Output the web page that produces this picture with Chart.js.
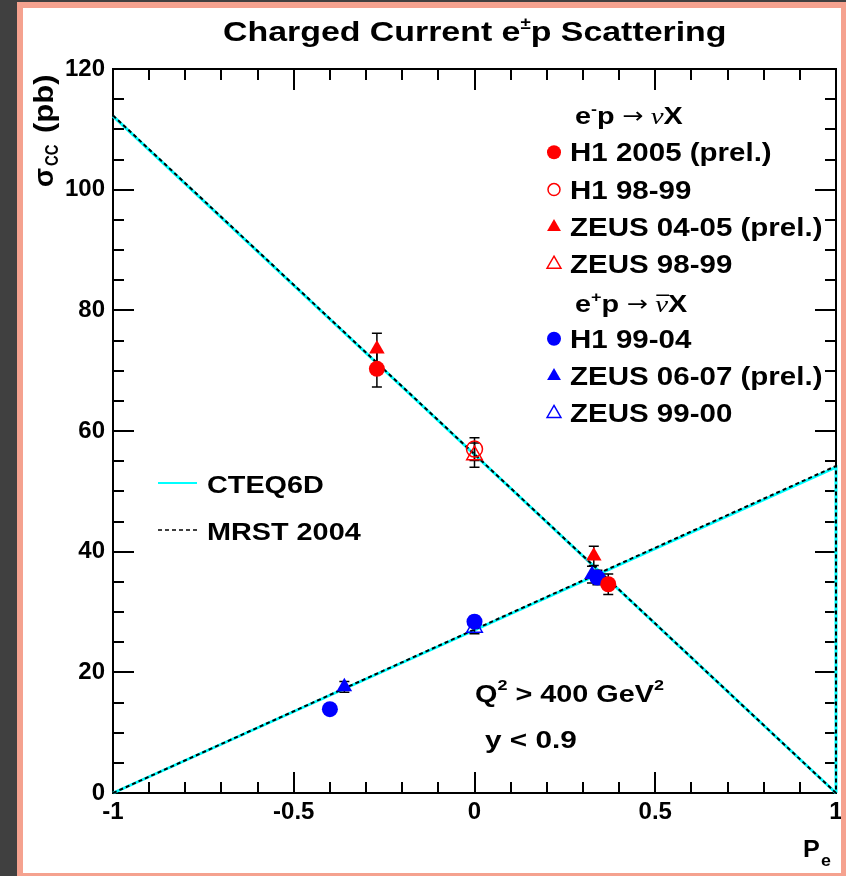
<!DOCTYPE html>
<html>
<head>
<meta charset="utf-8">
<script src="https://cdn.jsdelivr.net/npm/chart.js@4.4.1/dist/chart.umd.min.js"></script>
<style>
  html, body { margin: 0; padding: 0; background: #404040; }
  #frame { position: absolute; left: 17px; top: 2px; width: 829px; height: 874px; background: #f5a28f; }
  #wrap { position: absolute; left: 6px; top: 6px; width: 818px; height: 865px; background: #ffffff; }
</style>
</head>
<body>
<div id="frame"><div id="wrap"><canvas id="ccChart" width="818" height="865"></canvas></div></div>
<script>
// tick labels
const xTicks = [-1, -0.5, 0, 0.5, 1];
const yTicks = [0, 20, 40, 60, 80, 100, 120];

// e-p -> nu X
const h1_2005_P = [-0.27, 0.37];
const h1_2005_sig = [70.3, 34.6];
const h1_2005_err = [3.0, 1.7];

const h1_9899_P = [0];
const h1_9899_sig = [57.0];
const h1_9899_err = [1.9];

const zeus_0405_P = [-0.27, 0.33];
const zeus_0405_sig = [73.6, 39.3];
const zeus_0405_err = [2.6, 1.6];

const zeus_9899_P = [0];
const zeus_9899_sig = [56.0];
const zeus_9899_err = [2.0];

// e+p -> nubar X
const h1_9904_P = [-0.40, 0, 0.34];
const h1_9904_sig = [13.9, 28.4, 35.7];
const h1_9904_err = [0.8, 0.9, 1.2];

const zeus_0607_P = [-0.36, 0.325];
const zeus_0607_sig = [17.6, 36.2];
const zeus_0607_err = [0.9, 1.4];

const zeus_9900_P = [0];
const zeus_9900_sig = [27.4];
const zeus_9900_err = [1.0];

// theory predictions (straight lines in Pe)
const emLineP = [-1, 1];
const cteqEm = [112.2, 0];
const mrstEm = [112.3, 0];
const epLineP = [-1, 1, 1];
const cteqEp = [0, 54.0, 0];
const mrstEp = [0, 54.2, 0];

const FONT = '"Liberation Sans", Arial, Helvetica, sans-serif';
const RED = "#ff0000";
const BLUE = "#0000ff";
const STRETCH = 1.2; // the ROOT text is wider than Liberation Sans

function pts(P, s) {
  return P.map((p, i) => ({ x: p, y: s[i] }));
}

function markerSet(label, P, s, err, style, color, open) {
  return {
    label: label,
    data: pts(P, s),
    err: err,
    showLine: false,
    pointStyle: style,
    pointRadius: style === "triangle" ? 9 : 8,
    backgroundColor: open ? "rgba(0,0,0,0)" : color,
    borderColor: color,
    borderWidth: open ? 1.5 : 0,
    order: 1,
  };
}

const datasets = [
  markerSet("H1 2005 (prel.)", h1_2005_P, h1_2005_sig, h1_2005_err, "circle", RED, false),
  markerSet("H1 98-99", h1_9899_P, h1_9899_sig, h1_9899_err, "circle", RED, true),
  markerSet("ZEUS 04-05 (prel.)", zeus_0405_P, zeus_0405_sig, zeus_0405_err, "triangle", RED, false),
  markerSet("ZEUS 98-99", zeus_9899_P, zeus_9899_sig, zeus_9899_err, "triangle", RED, true),
  markerSet("H1 99-04", h1_9904_P, h1_9904_sig, h1_9904_err, "circle", BLUE, false),
  markerSet("ZEUS 06-07 (prel.)", zeus_0607_P, zeus_0607_sig, zeus_0607_err, "triangle", BLUE, false),
  markerSet("ZEUS 99-00", zeus_9900_P, zeus_9900_sig, zeus_9900_err, "triangle", BLUE, true),
  {
    label: "CTEQ6D", type: "line", data: pts(emLineP, cteqEm),
    borderColor: "#00ffff", borderWidth: 3, pointRadius: 0, clip: false, order: 3,
  },
  {
    label: "CTEQ6D e+", type: "line", data: pts(epLineP, cteqEp),
    borderColor: "#00ffff", borderWidth: 3, pointRadius: 0, clip: false, order: 3,
  },
  {
    label: "MRST 2004", type: "line", data: pts(emLineP, mrstEm),
    borderColor: "#000000", borderWidth: 2, borderDash: [4, 3], pointRadius: 0, clip: false, order: 2,
  },
  {
    label: "MRST 2004 e+", type: "line", data: pts(epLineP, mrstEp),
    borderColor: "#000000", borderWidth: 2, borderDash: [4, 3], pointRadius: 0, clip: false, order: 2,
  },
];

function drawMarker(ctx, ds, x, y, r) {
  ctx.save();
  ctx.fillStyle = ds.backgroundColor;
  ctx.strokeStyle = ds.borderColor;
  ctx.lineWidth = ds.borderWidth || 1;
  ctx.beginPath();
  if (ds.pointStyle === "circle") {
    ctx.arc(x, y, r, 0, Math.PI * 2);
  } else {
    const s = Math.sin(Math.PI / 3) * r;
    ctx.moveTo(x, y - r);
    ctx.lineTo(x + s, y + r / 2);
    ctx.lineTo(x - s, y + r / 2);
    ctx.closePath();
  }
  ctx.fill();
  if (ds.borderWidth > 0) ctx.stroke();
  ctx.restore();
}

// draws horizontally stretched text, returns the advance
function txt(ctx, s, x, y, font, sx) {
  ctx.save();
  ctx.font = font;
  ctx.translate(x, y);
  ctx.scale(sx, 1);
  ctx.fillText(s, 0, 0);
  const w = ctx.measureText(s).width * sx;
  ctx.restore();
  return w;
}

// frame with ROOT-style inward ticks on all four sides, plus x labels
const frameTicks = {
  id: "frameTicks",
  beforeDatasetsDraw(chart) {
    const { ctx, chartArea: a, scales: { x, y } } = chart;
    ctx.save();
    ctx.strokeStyle = "#000";
    ctx.lineWidth = 2;
    ctx.strokeRect(a.left, a.top, a.right - a.left, a.bottom - a.top);
    ctx.beginPath();
    for (let i = 0; i <= 20; i++) {
      const px = Math.round(x.getPixelForValue(-1 + i * 0.1));
      const len = i % 5 === 0 ? 21 : 11;
      ctx.moveTo(px, a.bottom); ctx.lineTo(px, a.bottom - len);
      ctx.moveTo(px, a.top); ctx.lineTo(px, a.top + len);
    }
    for (let i = 0; i <= 24; i++) {
      const py = Math.round(y.getPixelForValue(i * 5));
      const len = i % 4 === 0 ? 21 : 11;
      ctx.moveTo(a.left, py); ctx.lineTo(a.left + len, py);
      ctx.moveTo(a.right, py); ctx.lineTo(a.right - len, py);
    }
    ctx.stroke();

    ctx.fillStyle = "#000";
    ctx.font = "bold 24px " + FONT;
    ctx.textAlign = "center";
    ctx.textBaseline = "alphabetic";
    xTicks.forEach((v) => {
      ctx.fillText(String(v), x.getPixelForValue(v), a.bottom + 26);
    });
    ctx.restore();
  },
};

// vertical error bars with caps, drawn under the markers
let errDone = false;
const errorBars = {
  id: "errorBars",
  beforeDatasetsDraw() { errDone = false; },
  beforeDatasetDraw(chart, args) {
    const ds = chart.data.datasets[args.index];
    if (errDone || !ds.err) return;
    errDone = true;
    const { ctx, scales: { x, y } } = chart;
    ctx.save();
    ctx.strokeStyle = "#000";
    ctx.lineWidth = 1.5;
    chart.data.datasets.forEach((d) => {
      if (!d.err) return;
      d.data.forEach((p, i) => {
        const px = x.getPixelForValue(p.x);
        const y1 = y.getPixelForValue(p.y + d.err[i]);
        const y2 = y.getPixelForValue(p.y - d.err[i]);
        ctx.beginPath();
        ctx.moveTo(px, y1); ctx.lineTo(px, y2);
        ctx.moveTo(px - 5, y1); ctx.lineTo(px + 5, y1);
        ctx.moveTo(px - 5, y2); ctx.lineTo(px + 5, y2);
        ctx.stroke();
      });
    });
    ctx.restore();
  },
};

// titles, legends and annotations
const texts = {
  id: "texts",
  afterDraw(chart) {
    const ctx = chart.ctx;
    const ds = chart.data.datasets;
    const B24 = "bold 24px " + FONT;
    ctx.save();
    ctx.fillStyle = "#000";
    ctx.textBaseline = "alphabetic";
    ctx.textAlign = "left";

    // title
    let x = 200;
    x += txt(ctx, "Charged Current e", x, 33, "bold 28px " + FONT, 1.21);
    x += txt(ctx, "\u00b1", x, 21, "bold 17px " + FONT, 1.1);
    txt(ctx, "p Scattering", x, 33, "bold 28px " + FONT, 1.21);

    // y axis title (rotated)
    ctx.save();
    ctx.translate(30, 179);
    ctx.rotate(-Math.PI / 2);
    txt(ctx, "\u03c3", 0, 0, "bold 28px " + FONT, 1.0);
    txt(ctx, "CC", 21, 5, "bold 18px " + FONT, 0.82);
    txt(ctx, "(pb)", 54, 0, "bold 28px " + FONT, 1.11);
    ctx.restore();

    // x axis title
    txt(ctx, "P", 780, 849, B24, 1.05);
    txt(ctx, "e", 798, 858, "bold 17px " + FONT, 1.05);

    // data legend
    const rowY = (k) => 107 + k * 37.3;
    function header(sign, bar, yb) {
      let hx = 552;
      hx += txt(ctx, "e", hx, yb, B24, STRETCH);
      hx += txt(ctx, sign, hx, yb - 10, "bold 15px " + FONT, STRETCH);
      hx += txt(ctx, "p ", hx, yb, B24, STRETCH);
      hx += txt(ctx, "\u2192", hx, yb - 1, "22px 'DejaVu Sans', sans-serif", 1.15);
      hx += 7;
      const nw = txt(ctx, "\u03bd", hx, yb, "italic 24px 'Liberation Serif', 'Times New Roman', serif", STRETCH);
      if (bar) ctx.fillRect(hx + 1, yb - 17, nw, 1.5);
      hx += nw;
      txt(ctx, "X", hx, yb, B24, STRETCH);
    }
    header("-", false, rowY(0) + 9);
    header("+", true, rowY(5) + 10);
    const rows = [[0, 1], [1, 2], [2, 3], [3, 4], [4, 6], [5, 7], [6, 8]];
    rows.forEach(([di, k]) => {
      const d = ds[di];
      const yy = rowY(k);
      const r = d.pointStyle === "circle" ? (d.borderWidth ? 6 : 7) : 8;
      drawMarker(ctx, d, 531, yy, r);
      txt(ctx, d.label, 547, yy + 9, "bold 25px " + FONT, 1.18);
    });

    // theory legend
    ctx.save();
    ctx.strokeStyle = "#00ffff";
    ctx.lineWidth = 2;
    ctx.beginPath(); ctx.moveTo(135, 475); ctx.lineTo(174, 475); ctx.stroke();
    ctx.strokeStyle = "#000";
    ctx.lineWidth = 1.5;
    ctx.setLineDash([4, 3]);
    ctx.beginPath(); ctx.moveTo(135, 522); ctx.lineTo(174, 522); ctx.stroke();
    ctx.restore();
    txt(ctx, "CTEQ6D", 184, 485, B24, STRETCH);
    txt(ctx, "MRST 2004", 184, 532, B24, STRETCH);

    // cuts
    x = 452;
    x += txt(ctx, "Q", x, 694, B24, STRETCH);
    x += txt(ctx, "2", x, 682, "bold 15px " + FONT, STRETCH);
    x += txt(ctx, " > 400 GeV", x, 694, B24, STRETCH);
    txt(ctx, "2", x, 682, "bold 15px " + FONT, STRETCH);
    txt(ctx, "y < 0.9", 462, 740, B24, 1.24);

    ctx.restore();
  },
};

const tickFont = { family: FONT, size: 24, weight: "bold" };

new Chart(document.getElementById("ccChart").getContext("2d"), {
  type: "scatter",
  data: { datasets: datasets },
  options: {
    responsive: false,
    animation: false,
    layout: { autoPadding: false, padding: { top: 61, right: 5, left: 0, bottom: 0 } },
    plugins: {
      legend: { display: false },
      tooltip: { enabled: false },
    },
    scales: {
      x: {
        type: "linear",
        min: -1,
        max: 1,
        afterBuildTicks(s) { s.ticks = xTicks.map((v) => ({ value: v })); },
        afterFit(s) { s.height = 80; },
        ticks: { display: false },
        grid: { drawOnChartArea: false, drawTicks: false },
        border: { display: false },
      },
      y: {
        type: "linear",
        min: 0,
        max: 120,
        afterBuildTicks(s) { s.ticks = yTicks.map((v) => ({ value: v })); },
        afterFit(s) { s.width = 90; },
        ticks: { callback: (v) => String(v), font: tickFont, color: "#000", padding: 8 },
        grid: { drawOnChartArea: false, drawTicks: false },
        border: { display: false },
      },
    },
  },
  plugins: [frameTicks, errorBars, texts],
});
</script>
</body>
</html>
